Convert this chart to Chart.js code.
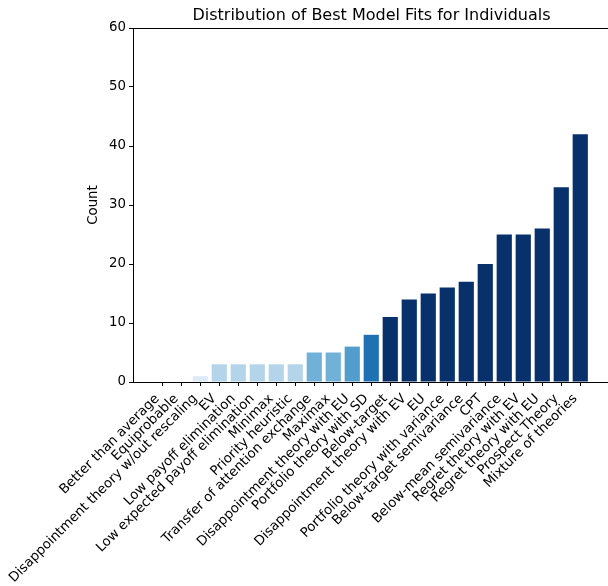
<!DOCTYPE html>
<html>
<head>
<meta charset="utf-8">
<script src="https://cdn.jsdelivr.net/npm/chart.js@4.4.0/dist/chart.umd.min.js"></script>
<style>
  html, body { margin: 0; padding: 0; background: #fff; }
  canvas { display: block; }
</style>
</head>
<body>
<canvas id="barChart" width="608" height="586"></canvas>
<script>
// model names, sorted by how many individuals they fit best
var models = [
    'Better than average', 'Equiprobable', 'Disappointment theory w/out rescaling', 'EV',
    'Low payoff elimination', 'Low expected payoff elimination', 'Minimax', 'Priority heuristic',
    'Transfer of attention exchange', 'Maximax', 'Disappointment theory with EU',
    'Portfolio theory with SD', 'Below-target', 'Disappointment theory with EV', 'EU',
    'Portfolio theory with variance', 'Below-target semivariance', 'CPT',
    'Below-mean semivariance', 'Regret theory with EV', 'Regret theory with EU',
    'Prospect Theory', 'Mixture of theories'
];
var counts = [0, 0, 1, 3, 3, 3, 3, 3, 5, 5, 6, 8, 11, 14, 15, 16, 17, 20, 25, 25, 26, 33, 42];
var yTicks = [0, 10, 20, 30, 40, 50, 60];
var chartTitle = 'Distribution of Best Model Fits for Individuals';

var FONT = '"DejaVu Sans", sans-serif';

// matplotlib "Blues" colormap stops
var blues = ['#f7fbff', '#deebf7', '#c6dbef', '#9ecae1', '#6baed6', '#4292c6', '#2171b5', '#08519c', '#08306b'];

function hexToRgb(h) {
    return [parseInt(h.substr(1, 2), 16), parseInt(h.substr(3, 2), 16), parseInt(h.substr(5, 2), 16)];
}

function bluesColor(t) {
    t = Math.max(0, Math.min(1, t));
    var pos = t * (blues.length - 1);
    var i = Math.min(Math.floor(pos), blues.length - 2);
    var f = pos - i;
    var a = hexToRgb(blues[i]), b = hexToRgb(blues[i + 1]);
    var c = a.map((v, k) => Math.round(v + (b[k] - v) * f));
    return 'rgb(' + c.join(',') + ')';
}

var barColors = counts.map(v => bluesColor(0.035 + v * 0.09));

// title centred over the plot + top spine
var extras = {
    id: 'extras',
    afterDraw: function (chart) {
        var ctx = chart.ctx, a = chart.chartArea;
        ctx.save();
        ctx.strokeStyle = '#000';
        ctx.lineWidth = 1;
        ctx.beginPath();
        ctx.moveTo(a.left, Math.round(a.top) + 0.5);
        ctx.lineTo(a.right + 2, Math.round(a.top) + 0.5);
        ctx.stroke();
        ctx.fillStyle = '#000';
        ctx.font = '16px ' + FONT;
        ctx.textAlign = 'center';
        ctx.textBaseline = 'alphabetic';
        ctx.fillText(chartTitle, (a.left + a.right) / 2 + 1, 20);
        ctx.restore();
    }
};

var ctx = document.getElementById('barChart').getContext('2d');
var barChart = new Chart(ctx, {
    type: 'bar',
    data: {
        datasets: [{
            label: 'Count',
            data: counts.map((v, i) => ({ x: i, y: v })),
            backgroundColor: barColors,
            borderWidth: 0,
            barPercentage: 0.8,
            categoryPercentage: 1.0
        }]
    },
    options: {
        responsive: false,
        animation: false,
        layout: { padding: { top: 28, left: 0, right: 0, bottom: 0 } },
        plugins: {
            legend: { display: false },
            tooltip: { enabled: false },
            title: { display: false }
        },
        scales: {
            x: {
                type: 'linear',
                offset: false,
                min: -1.54,
                max: 23.46,
                afterBuildTicks: function (scale) {
                    scale.ticks = models.map((_, i) => ({ value: i }));
                },
                afterFit: function (scale) {
                    scale.height = 204;
                    scale.paddingRight = 0;
                },
                grid: { display: true, offset: false, drawOnChartArea: false, drawTicks: true, tickLength: 4, color: '#000' },
                border: { display: true, color: '#000', width: 1 },
                ticks: {
                    autoSkip: false,
                    minRotation: 45,
                    maxRotation: 45,
                    padding: 5,
                    labelOffset: -5,
                    color: '#000',
                    font: { family: FONT, size: 13.33 },
                    callback: function (value) { return models[value]; }
                }
            },
            y: {
                min: 0,
                max: 60,
                afterBuildTicks: function (scale) {
                    scale.ticks = yTicks.map(v => ({ value: v }));
                },
                afterFit: function (scale) { scale.width = 133; },
                grid: { display: true, drawOnChartArea: false, drawTicks: true, tickLength: 4, color: '#000' },
                border: { display: true, color: '#000', width: 1 },
                ticks: {
                    padding: 3,
                    color: '#000',
                    font: { family: FONT, size: 13.33 }
                },
                title: {
                    display: true,
                    text: 'Count',
                    color: '#000',
                    font: { family: FONT, size: 13.33 },
                    padding: { top: 86, bottom: 0 }
                }
            }
        }
    },
    plugins: [extras]
});
</script>
</body>
</html>
